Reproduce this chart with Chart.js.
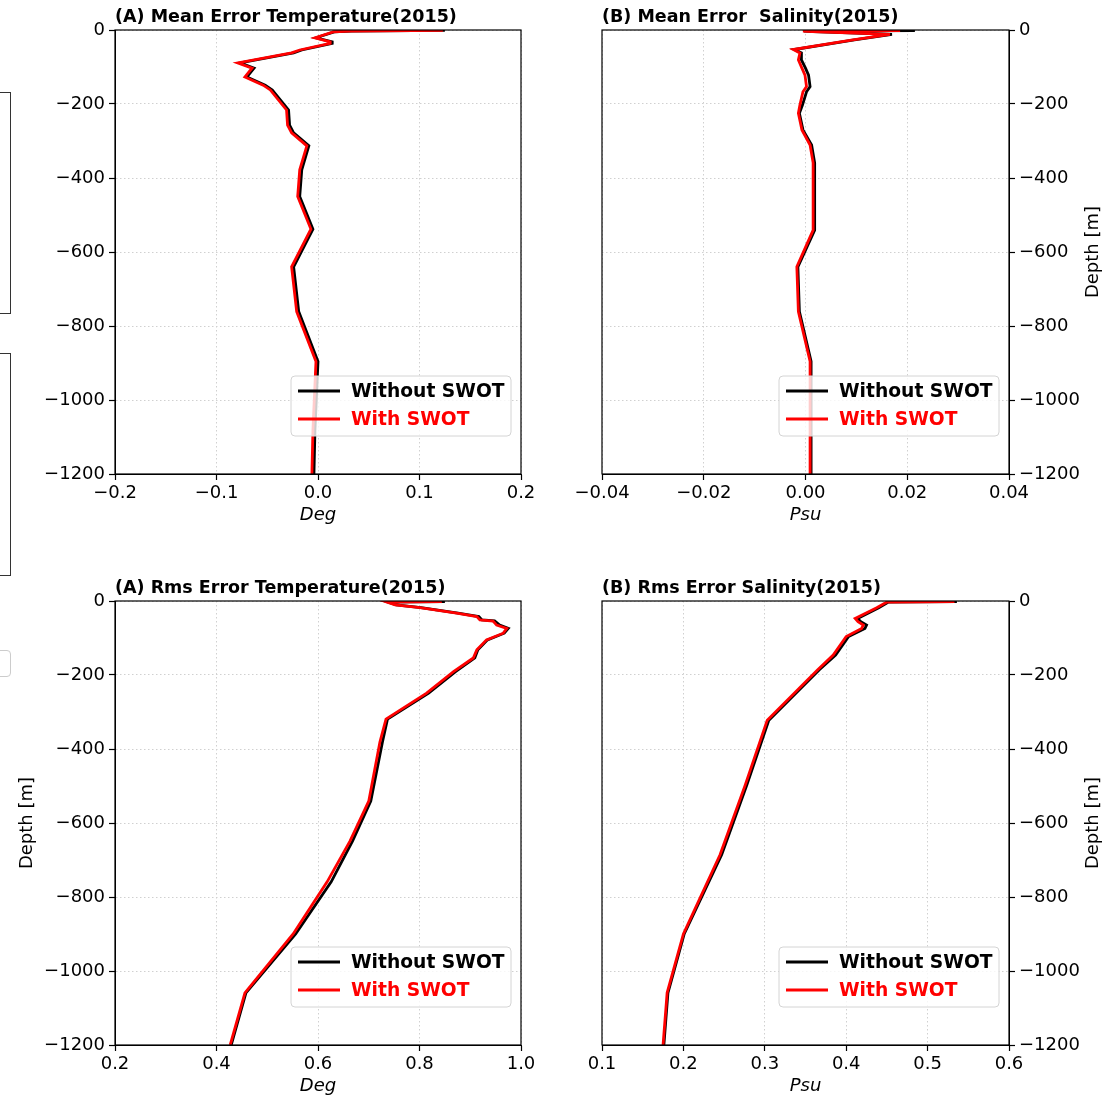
<!DOCTYPE html>
<html>
<head>
<meta charset="utf-8">
<script src="https://cdn.jsdelivr.net/npm/chart.js@4.4.1/dist/chart.umd.min.js"></script>
<style>
  body { margin: 0; background: #fff; width: 1119px; height: 1097px; overflow: hidden; position: relative; }
  .painel { position: absolute; }
  .painel canvas { display: block; }
  .resto { position: absolute; border: 1px solid #333; }
</style>
</head>
<body>
<!-- restos da figura vizinha, cortada na margem esquerda -->
<div class="resto" style="left:-50px; top:92px; width:59px; height:220px"></div>
<div class="resto" style="left:-50px; top:353px; width:59px; height:221px"></div>
<div class="resto" style="left:-50px; top:650px; width:59px; height:25px; border-color:#ccc; border-radius:4px"></div>

<div class="painel" style="left:0; top:0"><canvas id="g1" width="560" height="540"></canvas></div>
<div class="painel" style="left:560px; top:0"><canvas id="g2" width="559" height="540"></canvas></div>
<div class="painel" style="left:0; top:560px"><canvas id="g3" width="560" height="537"></canvas></div>
<div class="painel" style="left:560px; top:560px"><canvas id="g4" width="559" height="537"></canvas></div>

<script>
// (A) Mean Error Temperature
const profMediaTemp = [-1, -3, -5, -21, -32, -36, -54, -62, -89, -103, -127, -149, -162, -216, -257, -278, -313, -378, -450, -538, -640, -761, -896, -1081, -1200];
const mediaTempSem = [0.125, 0.033, 0.016, -0.002, 0.014, 0.014, -0.016, -0.024, -0.077, -0.063, -0.070, -0.052, -0.045, -0.029, -0.028, -0.024, -0.009, -0.016, -0.018, -0.005, -0.024, -0.019, 0.000, -0.003, -0.004];
const mediaTempCom = [0.123, 0.032, 0.015, -0.003, 0.012, 0.012, -0.018, -0.026, -0.079, -0.065, -0.072, -0.054, -0.047, -0.031, -0.030, -0.026, -0.011, -0.018, -0.020, -0.007, -0.026, -0.021, -0.002, -0.005, -0.006];

// (B) Mean Error Salinity
const profMediaSal = [-1.4, -2.7, -4.6, -11.6, -27, -52.7, -62, -81, -103, -122, -153, -167, -203, -225, -270, -311, -359, -541, -640, -761, -896, -1200];
const mediaSalSem = [0.0215, -0.0003, 0.0015, 0.0170, 0.0096, -0.0022, -0.0008, -0.0008, 0.0000, 0.0006, 0.0009, 0.0002, -0.0006, -0.0012, -0.0005, 0.0012, 0.0018, 0.0018, -0.0015, -0.0012, 0.0011, 0.0011];
const mediaSalCom = [0.0186, -0.0005, 0.0013, 0.0166, 0.0093, -0.0024, -0.0011, -0.0014, -0.0007, -0.0001, 0.0002, -0.0005, -0.0011, -0.0014, -0.0007, 0.0009, 0.0015, 0.0015, -0.0017, -0.0014, 0.0009, 0.0009];

// (A) Rms Error Temperature
const profRmsTemp = [-1.4, -2.7, -10.8, -18, -33, -42, -51, -54, -65, -74, -87, -105, -132, -154, -191, -249, -319, -381, -541, -649, -759, -900, -1059, -1200];
const rmsTempSem = [0.850, 0.737, 0.754, 0.803, 0.876, 0.917, 0.923, 0.948, 0.958, 0.975, 0.967, 0.934, 0.915, 0.909, 0.871, 0.818, 0.737, 0.727, 0.704, 0.668, 0.626, 0.556, 0.458, 0.429];
const rmsTempCom = [0.844, 0.735, 0.752, 0.801, 0.873, 0.913, 0.919, 0.945, 0.952, 0.972, 0.965, 0.932, 0.913, 0.906, 0.867, 0.814, 0.734, 0.722, 0.700, 0.663, 0.618, 0.551, 0.456, 0.427];

// (B) Rms Error Salinity
const profRmsSal = [-1.4, -2.7, -18, -47, -56, -65, -74, -96, -146, -186, -322, -497, -686, -900, -1059, -1200];
const rmsSalSem = [0.536, 0.452, 0.440, 0.414, 0.418, 0.425, 0.423, 0.403, 0.387, 0.367, 0.305, 0.278, 0.247, 0.201, 0.181, 0.176];
const rmsSalCom = [0.533, 0.450, 0.4375, 0.411, 0.4145, 0.421, 0.419, 0.400, 0.384, 0.365, 0.303, 0.276, 0.245, 0.200, 0.180, 0.175];

const rotulosSeries = ['Without SWOT', 'With SWOT'];
const fonte = '"DejaVu Sans", sans-serif';

// escreve o número no estilo do matplotlib, com sinal de menos verdadeiro
function formatar(v, casas) {
    if (Math.abs(v) < 1e-9) v = 0;
    return v.toFixed(casas).replace('-', '\u2212');
}

// moldura, título, rótulos dos eixos e legenda de cada painel
const decoracao = {
    id: 'decoracao',
    afterDraw(chart, args, opts) {
        const ctx = chart.ctx;
        const a = chart.chartArea;
        ctx.save();

        ctx.strokeStyle = '#000';
        ctx.lineWidth = 1.2;
        ctx.strokeRect(a.left, a.top, a.right - a.left, a.bottom - a.top);

        ctx.fillStyle = '#000';
        ctx.font = 'bold 17.5px ' + fonte;
        ctx.textAlign = 'left';
        ctx.textBaseline = 'alphabetic';
        ctx.fillText(opts.titulo, a.left, a.top - 8);

        ctx.font = 'italic 18px ' + fonte;
        ctx.textAlign = 'center';
        ctx.textBaseline = 'middle';
        ctx.fillText(opts.rotuloX, (a.left + a.right) / 2, a.bottom + 41);

        if (opts.rotuloY) {
            ctx.save();
            const px = opts.ladoY === 'right' ? a.right + 84 : a.left - 88;
            ctx.translate(px, (a.top + a.bottom) / 2);
            ctx.rotate(-Math.PI / 2);
            ctx.font = '18px ' + fonte;
            ctx.fillText(opts.rotuloY, 0, 0);
            ctx.restore();
        }

        // legenda no canto inferior direito
        const bx = a.right - 230, by = a.bottom - 98, bw = 220, bh = 60;
        ctx.beginPath();
        ctx.roundRect(bx, by, bw, bh, 4);
        ctx.fillStyle = 'rgba(255,255,255,0.8)';
        ctx.fill();
        ctx.strokeStyle = '#d4d4d4';
        ctx.lineWidth = 1;
        ctx.stroke();

        ctx.font = 'bold 18.7px ' + fonte;
        ctx.textAlign = 'left';
        chart.data.datasets.forEach((ds, i) => {
            const ly = by + 15 + i * 28;
            ctx.beginPath();
            ctx.moveTo(bx + 7, ly);
            ctx.lineTo(bx + 49, ly);
            ctx.strokeStyle = ds.borderColor;
            ctx.lineWidth = 2.8;
            ctx.stroke();
            ctx.fillStyle = ds.borderColor;
            ctx.fillText(ds.label, bx + 60, ly + 1);
        });

        ctx.restore();
    }
};

function montarPainel(id, p) {
    const serie = (valores) => p.profundidade.map((prof, i) => ({ x: valores[i], y: prof }));
    const eixo = {
        font: { family: fonte, size: 18 },
        color: '#000'
    };
    new Chart(document.getElementById(id), {
        type: 'scatter',
        data: {
            datasets: [
                { label: rotulosSeries[0], data: serie(p.sem), borderColor: '#000000', order: 2 },
                { label: rotulosSeries[1], data: serie(p.com), borderColor: '#ff0000', order: 1 }
            ].map(ds => Object.assign(ds, { showLine: true, pointRadius: 0, borderWidth: 2.8, tension: 0 }))
        },
        options: {
            responsive: false,
            animation: false,
            layout: { padding: p.margem },
            plugins: {
                legend: { display: false },
                tooltip: { enabled: false },
                decoracao: { titulo: p.titulo, rotuloX: p.rotuloX, rotuloY: p.rotuloY, ladoY: p.ladoY }
            },
            scales: {
                x: {
                    type: 'linear',
                    min: p.xMin,
                    max: p.xMax,
                    ticks: Object.assign({ stepSize: p.passoX, autoSkip: false, maxRotation: 0, padding: 3,
                        callback: v => formatar(v, p.casasX) }, eixo),
                    grid: { color: '#d0d0d0', lineWidth: 1, tickLength: 6, tickColor: '#000', tickWidth: 1.2 },
                    border: { dash: [1.5, 2.5], color: '#000' },
                    afterFit: s => { s.height = p.alturaX; }
                },
                y: {
                    type: 'linear',
                    position: p.ladoY,
                    min: -1200,
                    max: 0,
                    ticks: Object.assign({ stepSize: 200, autoSkip: false, padding: 4,
                        callback: v => formatar(v, 0) }, eixo),
                    grid: { color: '#d0d0d0', lineWidth: 1, tickLength: 6, tickColor: '#000', tickWidth: 1.2 },
                    border: { dash: [1.5, 2.5], color: '#000' },
                    afterFit: s => { s.width = p.larguraY; }
                }
            }
        },
        plugins: [decoracao]
    });
}

window.onload = () => {
    montarPainel('g1', {
        titulo: '(A) Mean Error Temperature(2015)', rotuloX: 'Deg', rotuloY: '', ladoY: 'left',
        profundidade: profMediaTemp, sem: mediaTempSem, com: mediaTempCom,
        xMin: -0.2, xMax: 0.2, passoX: 0.1, casasX: 1,
        margem: { left: 0, top: 30, right: 39, bottom: 0 }, larguraY: 115, alturaX: 66
    });
    montarPainel('g2', {
        titulo: '(B) Mean Error  Salinity(2015)', rotuloX: 'Psu', rotuloY: 'Depth [m]', ladoY: 'right',
        profundidade: profMediaSal, sem: mediaSalSem, com: mediaSalCom,
        xMin: -0.04, xMax: 0.04, passoX: 0.02, casasX: 2,
        margem: { left: 42, top: 30, right: 0, bottom: 0 }, larguraY: 110, alturaX: 66
    });
    montarPainel('g3', {
        titulo: '(A) Rms Error Temperature(2015)', rotuloX: 'Deg', rotuloY: 'Depth [m]', ladoY: 'left',
        profundidade: profRmsTemp, sem: rmsTempSem, com: rmsTempCom,
        xMin: 0.2, xMax: 1.0, passoX: 0.2, casasX: 1,
        margem: { left: 0, top: 41, right: 39, bottom: 0 }, larguraY: 115, alturaX: 52
    });
    montarPainel('g4', {
        titulo: '(B) Rms Error Salinity(2015)', rotuloX: 'Psu', rotuloY: 'Depth [m]', ladoY: 'right',
        profundidade: profRmsSal, sem: rmsSalSem, com: rmsSalCom,
        xMin: 0.1, xMax: 0.6, passoX: 0.1, casasX: 1,
        margem: { left: 42, top: 41, right: 0, bottom: 0 }, larguraY: 110, alturaX: 52
    });
};
</script>
</body>
</html>
